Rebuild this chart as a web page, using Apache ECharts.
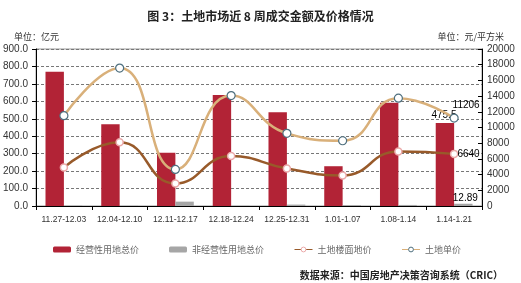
<!DOCTYPE html>
<html><head><meta charset="utf-8">
<script src="https://cdn.jsdelivr.net/npm/echarts@6/dist/echarts.min.js"></script>
<style>html,body{margin:0;padding:0;background:#fff}#c{width:521px;height:283px}</style>
</head><body><div id="c"></div>
<script>
var categories = ['11.27-12.03','12.04-12.10','12.11-12.17','12.18-12.24','12.25-12.31','1.01-1.07','1.08-1.14','1.14-1.21'];
var commercialTotal = [770, 468, 305, 636, 537, 228, 592, 475.5];
var nonCommercialTotal = [2, 1, 25, 1, 8, 5, 6, 12.89];
var floorPrice = [4910, 8107, 2864, 6355, 4783, 3887, 6956, 6640];
var unitPrice = [11509, 17570, 4655, 14066, 9258, 8312, 13734, 11206];
var leftTicks = {min: 0, max: 900, interval: 100};
var rightTicks = {min: 0, max: 20000, interval: 2000};

var cjk = '"Noto Sans CJK SC", sans-serif';
var num = '"Liberation Sans", Arial, sans-serif';
var chart = echarts.init(document.getElementById('c'));
var last = categories.length - 1;
function lastLabel(pos, offset) {
  return {
    show: true, position: pos, offset: offset, color: '#000', fontSize: 10, fontFamily: num,
    formatter: function (p) { return p.dataIndex === last ? String(p.value) : ''; }
  };
}
chart.setOption({
  animation: false,
  title: [
    {text: '图 3：土地市场近 8 周成交金额及价格情况', left: 'center', top: 5,
     textStyle: {fontSize: 12, fontWeight: 'bold', color: '#222', fontFamily: cjk}},
    {text: '单位：亿元', left: 9, top: 27, textStyle: {fontSize: 9, fontWeight: 'normal', color: '#333', fontFamily: cjk}},
    {text: '单位：元/平方米', right: 12, top: 27, textStyle: {fontSize: 9, fontWeight: 'normal', color: '#333', fontFamily: cjk}},
    {text: '数据来源：中国房地产决策咨询系统（CRIC）', right: 13, top: 265,
     textStyle: {fontSize: 10, fontWeight: 'bold', color: '#222', fontFamily: cjk}}
  ],
  legend: {
    top: 240, left: 48, itemGap: 30, itemWidth: 18, itemHeight: 6,
    textStyle: {fontSize: 9, color: '#666', fontFamily: cjk},
    data: [
      {name: '经营性用地总价'},
      {name: '非经营性用地总价'},
      {name: '土地楼面地价', lineStyle: {width: 1}, itemStyle: {borderWidth: 1}},
      {name: '土地单价', lineStyle: {width: 1}, itemStyle: {borderWidth: 1}}
    ]
  },
  grid: {left: 36, right: 39, top: 49, bottom: 77, show: true, borderColor: '#999', borderWidth: 1},
  xAxis: {
    type: 'category', data: categories,
    axisLine: {lineStyle: {color: '#000'}},
    axisTick: {show: true, length: 4, lineStyle: {color: '#000'}},
    axisLabel: {fontSize: 8.5, color: '#333', fontFamily: num, margin: 9, interval: 0}
  },
  yAxis: [
    {type: 'value', min: leftTicks.min, max: leftTicks.max, interval: leftTicks.interval,
     axisLine: {show: true, lineStyle: {color: '#000'}},
     axisTick: {show: true, length: 4, lineStyle: {color: '#000'}},
     axisLabel: {fontSize: 10, color: '#333', fontFamily: num, margin: 8,
       formatter: function (v) { return v.toFixed(1); }},
     splitLine: {show: true, lineStyle: {color: '#777', type: [3, 2]}}},
    {type: 'value', min: rightTicks.min, max: rightTicks.max, interval: rightTicks.interval,
     axisLine: {show: true, lineStyle: {color: '#000'}},
     axisTick: {show: true, inside: true, length: 4, lineStyle: {color: '#000'}},
     axisLabel: {fontSize: 10, color: '#333', fontFamily: num, margin: 5,
       formatter: function (v) { return String(v); }},
     splitLine: {show: false}}
  ],
  series: [
    {name: '经营性用地总价', type: 'bar', data: commercialTotal, barGap: 0, barCategoryGap: '34%',
     itemStyle: {color: '#B22336'}, label: lastLabel('top', [-1, 2])},
    {name: '非经营性用地总价', type: 'bar', data: nonCommercialTotal,
     itemStyle: {color: '#A6A6A6'}, label: lastLabel('top', [2, 4])},
    {name: '土地楼面地价', type: 'line', yAxisIndex: 1, data: floorPrice, smooth: 0.5,
     lineStyle: {color: '#985A2A', width: 2.5}, itemStyle: {color: '#fff', borderColor: '#EBA9A9', borderWidth: 1.5},
     symbol: 'circle', symbolSize: 7, z: 3,
     label: lastLabel('right', [-6, 0])},
    {name: '土地单价', type: 'line', yAxisIndex: 1, data: unitPrice, smooth: 0.5,
     lineStyle: {color: '#D9B07A', width: 2.5}, itemStyle: {color: '#fff', borderColor: '#4E6F7E', borderWidth: 1.2},
     symbol: 'circle', symbolSize: 8, z: 3,
     label: lastLabel('top', [12, 2])}
  ]
});
</script></body></html>
